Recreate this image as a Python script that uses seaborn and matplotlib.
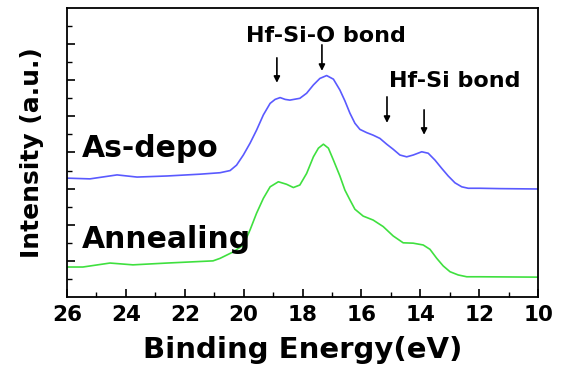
import numpy as np
import pandas as pd
import matplotlib
matplotlib.use("Agg")
import matplotlib.pyplot as plt
import seaborn as sns

# Valence-band XPS spectra (binding energy in eV, intensity in arbitrary units)
asdepo_energy = [26.0, 25.22, 24.30, 23.62, 22.60, 21.48, 20.80, 20.46, 20.24, 20.01, 19.78,
                 19.56, 19.33, 19.10, 18.93, 18.76, 18.59, 18.43, 18.09, 17.86, 17.63, 17.41,
                 17.18, 16.95, 16.73, 16.56, 16.39, 16.22, 16.05, 15.82, 15.60, 15.37, 15.14,
                 14.92, 14.69, 14.46, 14.24, 13.95, 13.73, 13.50, 13.27, 13.05, 12.82, 12.59,
                 12.37, 11.97, 11.29, 10.0]
asdepo_intensity = [3.29, 3.27, 3.38, 3.32, 3.35, 3.40, 3.44, 3.50, 3.65, 3.93, 4.26,
                    4.62, 5.04, 5.36, 5.47, 5.52, 5.47, 5.45, 5.50, 5.64, 5.87, 6.05,
                    6.13, 6.03, 5.73, 5.43, 5.09, 4.81, 4.64, 4.55, 4.48, 4.39, 4.23,
                    4.09, 3.93, 3.88, 3.93, 4.02, 3.98, 3.79, 3.56, 3.35, 3.16, 3.05,
                    3.01, 3.01, 3.00, 2.99]

anneal_energy = [26.0, 25.46, 24.54, 23.76, 22.60, 21.04, 20.80, 20.35, 20.01, 19.78, 19.56,
                 19.33, 19.10, 18.82, 18.54, 18.31, 18.09, 17.86, 17.63, 17.46, 17.29, 17.12,
                 16.95, 16.73, 16.56, 16.39, 16.22, 15.94, 15.60, 15.26, 14.92, 14.58, 14.24,
                 13.90, 13.67, 13.44, 13.22, 12.99, 12.71, 12.42, 11.97, 10.0]
anneal_intensity = [0.83, 0.83, 0.94, 0.89, 0.94, 1.00, 1.07, 1.25, 1.44, 1.86, 2.32,
                    2.73, 3.05, 3.19, 3.12, 3.03, 3.10, 3.42, 3.88, 4.12, 4.23, 4.12,
                    3.79, 3.35, 2.96, 2.69, 2.43, 2.24, 2.13, 1.95, 1.69, 1.50, 1.49,
                    1.44, 1.32, 1.07, 0.86, 0.70, 0.61, 0.56, 0.56, 0.55]

series_names = ["As-depo", "Annealing"]
series_colors = ["#5a5aff", "#3fe03f"]

# Peak markers: (energy, tail intensity, head intensity)
sio_arrows = [(18.87, 6.62, 5.93), (17.34, 6.98, 6.26)]
hfsi_arrows = [(15.13, 5.54, 4.82), (13.87, 5.18, 4.49)]

x_ticks = [26, 24, 22, 20, 18, 16, 14, 12, 10]

df = pd.concat([
    pd.DataFrame({"energy": asdepo_energy, "intensity": asdepo_intensity, "sample": series_names[0]}),
    pd.DataFrame({"energy": anneal_energy, "intensity": anneal_intensity, "sample": series_names[1]}),
], ignore_index=True)

sns.set_theme(style="white")
plt.rcParams["font.family"] = ["DejaVu Sans"]
plt.rcParams["font.weight"] = "bold"

fig = plt.figure(figsize=(5.70, 3.69), dpi=100)
ax = fig.add_axes([67 / 570, 72 / 369, 471 / 570, 289 / 369])

sns.lineplot(data=df, x="energy", y="intensity", hue="sample", palette=series_colors,
             hue_order=series_names, linewidth=1.2, legend=False, ax=ax, sort=False,
             estimator=None)
for line in ax.get_lines():
    line.set_solid_joinstyle("round")
    line.set_solid_capstyle("round")

ax.set_xlim(26, 10)
ax.set_ylim(0, 8)
ax.set_xticks(x_ticks)
ax.set_xticks(np.arange(10, 27, 1), minor=True)
ax.set_yticks(np.arange(1, 8, 1))
ax.set_yticks(np.arange(0.5, 8, 1.0), minor=True)
ax.set_yticklabels([])
ax.tick_params(axis="both", which="both", direction="in", colors="black",
               bottom=True, left=True, top=False, right=False)
ax.tick_params(axis="both", which="major", length=6, width=1.2)
ax.tick_params(axis="both", which="minor", length=3.5, width=1.0)
ax.tick_params(axis="x", which="major", labelsize=15.5, pad=6)
for lab in ax.get_xticklabels():
    lab.set_fontweight("bold")

for side in ["left", "right", "top", "bottom"]:
    ax.spines[side].set_visible(True)
    ax.spines[side].set_color("black")
    ax.spines[side].set_linewidth(1.3)

ax.set_xlabel("Binding Energy(eV)", fontsize=21, fontweight="bold", labelpad=8, color="black")
ax.set_ylabel("Intensity (a.u.)", fontsize=18, fontweight="bold", labelpad=13, color="black")

ax.text(25.49, 3.88, "As-depo", fontsize=21.5, fontweight="bold", ha="left", va="baseline", color="black")
ax.text(25.49, 1.36, "Annealing", fontsize=21.5, fontweight="bold", ha="left", va="baseline", color="black")
ax.text(17.2, 7.06, "Hf-Si-O bond", fontsize=16, fontweight="bold", ha="center", va="baseline", color="black")
ax.text(12.82, 5.82, "Hf-Si bond", fontsize=16, fontweight="bold", ha="center", va="baseline", color="black")

for e, y0, y1 in sio_arrows + hfsi_arrows:
    ax.annotate("", xy=(e, y1), xytext=(e, y0),
                arrowprops=dict(arrowstyle="-|>", color="black", lw=1.2,
                                mutation_scale=9, shrinkA=0, shrinkB=0))

fig.savefig("out.png", dpi=100, facecolor="white")
